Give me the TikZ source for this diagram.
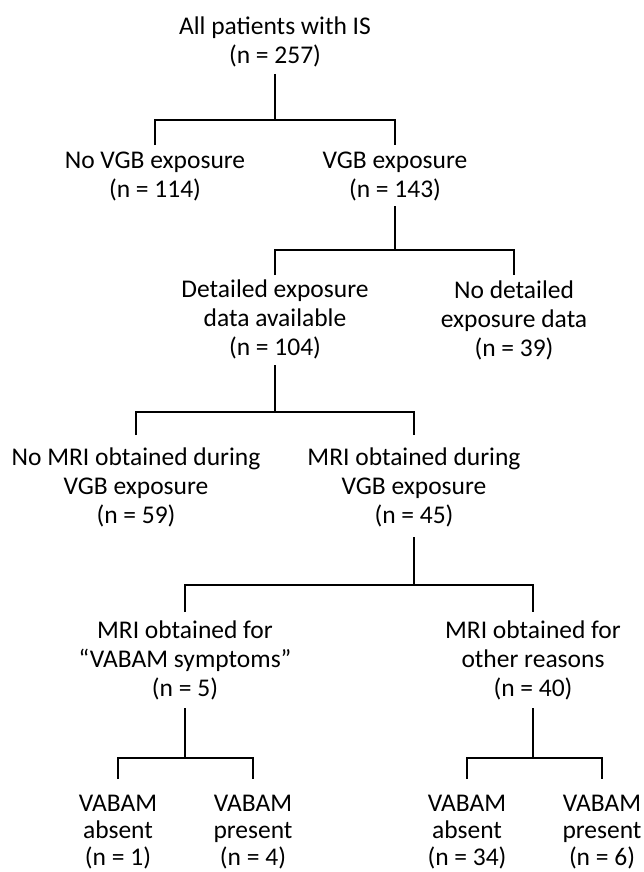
\documentclass[tikz,border=0pt]{standalone}
\usepackage{fontspec}
\setmainfont{Carlito}
\begin{document}
\begin{tikzpicture}[x=1pt,y=-1pt,
  lbl/.style={anchor=north,inner sep=0pt,outer sep=0pt,align=center,font=\fontsize{25.5}{29}\selectfont},
  leaf/.style={lbl,font=\fontsize{25.5}{27}\selectfont},
  conn/.style={line width=1.8pt}]
\useasboundingbox (0,0) rectangle (643,872);

% nodes
\node[lbl] (r)  at (275,14.7)  {\strut All patients with IS\\(n = 257)\strut};
\node[lbl] (nv) at (155,147.7) {\strut No VGB exposure\\(n = 114)\strut};
\node[lbl] (v)  at (395,147.7) {\strut VGB exposure\\(n = 143)\strut};
\node[lbl] (d)  at (275,276.7) {\strut Detailed exposure\\data available\\(n = 104)\strut};
\node[lbl] (nd) at (514,277.7) {\strut No detailed\\exposure data\\(n = 39)\strut};
\node[lbl] (nm) at (136,444.7) {\strut No MRI obtained during\\VGB exposure\\(n = 59)\strut};
\node[lbl] (m)  at (414,444.7) {\strut MRI obtained during\\VGB exposure\\(n = 45)\strut};
\node[lbl] (ms) at (185,617.7) {\strut MRI obtained for\\“VABAM symptoms”\\(n = 5)\strut};
\node[lbl] (mo) at (533,617.7) {\strut MRI obtained for\\other reasons\\(n = 40)\strut};
\node[leaf] (a1) at (118,792.1) {\strut VABAM\\absent\\(n = 1)\strut};
\node[leaf] (p1) at (253,792.1) {\strut VABAM\\present\\(n = 4)\strut};
\node[leaf] (a2) at (467,792.1) {\strut VABAM\\absent\\(n = 34)\strut};
\node[leaf] (p2) at (602,792.1) {\strut VABAM\\present\\(n = 6)\strut};

% bar levels
\coordinate (b0) at (0,120);
\coordinate (b1) at (0,250);
\coordinate (b2) at (0,412);
\coordinate (b3) at (0,585);
\coordinate (b4) at (0,758);

% connectors
\draw[conn] ([yshift=-1.3pt]r.south) -- (r.south |- b0);
\draw[conn] ([yshift=2.7pt]nv.north) |- (v.north |- b0) -- ([yshift=2.7pt]v.north);

\draw[conn] ([yshift=-0.3pt]v.south) -- (v.south |- b1);
\draw[conn] ([yshift=1.7pt]d.north) |- (nd.north |- b1) -- ([yshift=2.7pt]nd.north);

\draw[conn] ([yshift=-1.3pt]d.south) -- (d.south |- b2);
\draw[conn] ([yshift=9.7pt]nm.north) |- (m.north |- b2) -- ([yshift=9.7pt]m.north);

\draw[conn] ([yshift=-5.3pt]m.south) -- (m.south |- b3);
\draw[conn] ([yshift=5.7pt]ms.north) |- (mo.north |- b3) -- ([yshift=5.7pt]mo.north);

\draw[conn] ([yshift=-3.3pt]ms.south) -- (ms.south |- b4);
\draw[conn] ([yshift=-3.3pt]mo.south) -- (mo.south |- b4);
\draw[conn] ([yshift=13.1pt]a1.north) |- (p1.north |- b4) -- ([yshift=13.1pt]p1.north);
\draw[conn] ([yshift=13.1pt]a2.north) |- (p2.north |- b4) -- ([yshift=13.1pt]p2.north);
\end{tikzpicture}
\end{document}
